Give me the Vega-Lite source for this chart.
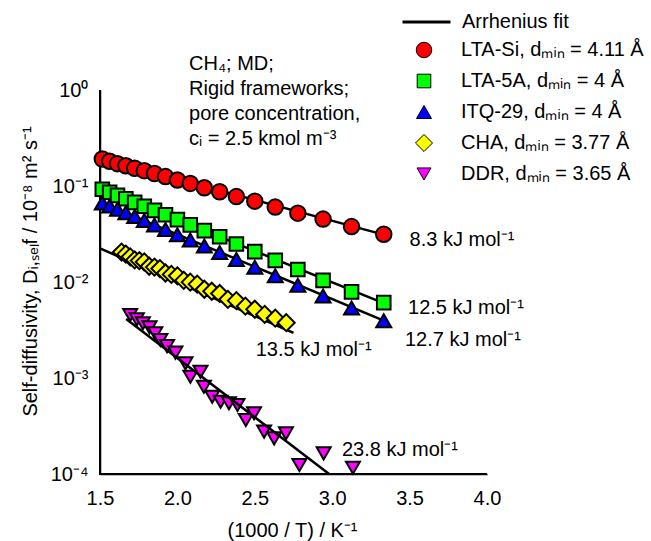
{
  "$schema": "https://vega.github.io/schema/vega-lite/v6.json",
  "width": 387,
  "height": 384,
  "autosize": {"type": "none"},
  "padding": {"left": 100, "top": 90, "right": 164, "bottom": 67},
  "background": "white",
  "config": {
    "view": {"stroke": null},
    "font": "Liberation Sans",
    "axis": {
      "domain": true,
      "domainColor": "black",
      "domainWidth": 1.5,
      "ticks": true,
      "tickColor": "black",
      "tickWidth": 1.5,
      "tickSize": 0,
      "grid": false,
      "zindex": 1,
      "labelColor": "black",
      "labelFont": "Liberation Sans",
      "labelFontSize": 20,
      "titleFont": "Liberation Sans",
      "titleFontSize": 20,
      "titleFontWeight": "normal",
      "titleColor": "black"
    },
    "legend": {
      "title": null,
      "orient": "none",
      "padding": 0,
      "labelFont": "Liberation Sans",
      "labelFontSize": 20,
      "labelColor": "black",
      "labelLimit": 0,
      "rowPadding": 11,
      "clipHeight": 20
    }
  },
  "datasets": {
    "pts": [
      {"series": "LTA-Si, dₘᵢₙ = 4.11 Å", "x": 1.515, "y": 0.191},
      {"series": "LTA-Si, dₘᵢₙ = 4.11 Å", "x": 1.5625, "y": 0.181},
      {"series": "LTA-Si, dₘᵢₙ = 4.11 Å", "x": 1.613, "y": 0.171},
      {"series": "LTA-Si, dₘᵢₙ = 4.11 Å", "x": 1.667, "y": 0.1626},
      {"series": "LTA-Si, dₘᵢₙ = 4.11 Å", "x": 1.724, "y": 0.153},
      {"series": "LTA-Si, dₘᵢₙ = 4.11 Å", "x": 1.786, "y": 0.1445},
      {"series": "LTA-Si, dₘᵢₙ = 4.11 Å", "x": 1.852, "y": 0.135},
      {"series": "LTA-Si, dₘᵢₙ = 4.11 Å", "x": 1.923, "y": 0.1253},
      {"series": "LTA-Si, dₘᵢₙ = 4.11 Å", "x": 2.0, "y": 0.1156},
      {"series": "LTA-Si, dₘᵢₙ = 4.11 Å", "x": 2.083, "y": 0.1064},
      {"series": "LTA-Si, dₘᵢₙ = 4.11 Å", "x": 2.174, "y": 0.0959},
      {"series": "LTA-Si, dₘᵢₙ = 4.11 Å", "x": 2.273, "y": 0.0871},
      {"series": "LTA-Si, dₘᵢₙ = 4.11 Å", "x": 2.381, "y": 0.0776},
      {"series": "LTA-Si, dₘᵢₙ = 4.11 Å", "x": 2.5, "y": 0.0695},
      {"series": "LTA-Si, dₘᵢₙ = 4.11 Å", "x": 2.632, "y": 0.0603},
      {"series": "LTA-Si, dₘᵢₙ = 4.11 Å", "x": 2.778, "y": 0.0521},
      {"series": "LTA-Si, dₘᵢₙ = 4.11 Å", "x": 2.941, "y": 0.0452},
      {"series": "LTA-Si, dₘᵢₙ = 4.11 Å", "x": 3.125, "y": 0.0378},
      {"series": "LTA-Si, dₘᵢₙ = 4.11 Å", "x": 3.333, "y": 0.0314},

      {"series": "LTA-5A, dₘᵢₙ = 4 Å", "x": 1.515, "y": 0.0925},
      {"series": "LTA-5A, dₘᵢₙ = 4 Å", "x": 1.5625, "y": 0.0861},
      {"series": "LTA-5A, dₘᵢₙ = 4 Å", "x": 1.613, "y": 0.0798},
      {"series": "LTA-5A, dₘᵢₙ = 4 Å", "x": 1.667, "y": 0.0736},
      {"series": "LTA-5A, dₘᵢₙ = 4 Å", "x": 1.724, "y": 0.0676},
      {"series": "LTA-5A, dₘᵢₙ = 4 Å", "x": 1.786, "y": 0.0615},
      {"series": "LTA-5A, dₘᵢₙ = 4 Å", "x": 1.852, "y": 0.0557},
      {"series": "LTA-5A, dₘᵢₙ = 4 Å", "x": 1.923, "y": 0.0501},
      {"series": "LTA-5A, dₘᵢₙ = 4 Å", "x": 2.0, "y": 0.0446},
      {"series": "LTA-5A, dₘᵢₙ = 4 Å", "x": 2.083, "y": 0.0394},
      {"series": "LTA-5A, dₘᵢₙ = 4 Å", "x": 2.174, "y": 0.0343},
      {"series": "LTA-5A, dₘᵢₙ = 4 Å", "x": 2.273, "y": 0.0296},
      {"series": "LTA-5A, dₘᵢₙ = 4 Å", "x": 2.381, "y": 0.0249},
      {"series": "LTA-5A, dₘᵢₙ = 4 Å", "x": 2.5, "y": 0.0207},
      {"series": "LTA-5A, dₘᵢₙ = 4 Å", "x": 2.632, "y": 0.0168},
      {"series": "LTA-5A, dₘᵢₙ = 4 Å", "x": 2.778, "y": 0.0135},
      {"series": "LTA-5A, dₘᵢₙ = 4 Å", "x": 2.941, "y": 0.0104},
      {"series": "LTA-5A, dₘᵢₙ = 4 Å", "x": 3.125, "y": 0.0079},
      {"series": "LTA-5A, dₘᵢₙ = 4 Å", "x": 3.333, "y": 0.0061},

      {"series": "ITQ-29, dₘᵢₙ = 4 Å", "x": 1.515, "y": 0.0665},
      {"series": "ITQ-29, dₘᵢₙ = 4 Å", "x": 1.5625, "y": 0.0618},
      {"series": "ITQ-29, dₘᵢₙ = 4 Å", "x": 1.613, "y": 0.0571},
      {"series": "ITQ-29, dₘᵢₙ = 4 Å", "x": 1.667, "y": 0.0525},
      {"series": "ITQ-29, dₘᵢₙ = 4 Å", "x": 1.724, "y": 0.048},
      {"series": "ITQ-29, dₘᵢₙ = 4 Å", "x": 1.786, "y": 0.0436},
      {"series": "ITQ-29, dₘᵢₙ = 4 Å", "x": 1.852, "y": 0.0393},
      {"series": "ITQ-29, dₘᵢₙ = 4 Å", "x": 1.923, "y": 0.0352},
      {"series": "ITQ-29, dₘᵢₙ = 4 Å", "x": 2.0, "y": 0.0311},
      {"series": "ITQ-29, dₘᵢₙ = 4 Å", "x": 2.083, "y": 0.0274},
      {"series": "ITQ-29, dₘᵢₙ = 4 Å", "x": 2.174, "y": 0.0237},
      {"series": "ITQ-29, dₘᵢₙ = 4 Å", "x": 2.273, "y": 0.0203},
      {"series": "ITQ-29, dₘᵢₙ = 4 Å", "x": 2.381, "y": 0.0172},
      {"series": "ITQ-29, dₘᵢₙ = 4 Å", "x": 2.5, "y": 0.01426},
      {"series": "ITQ-29, dₘᵢₙ = 4 Å", "x": 2.632, "y": 0.01159},
      {"series": "ITQ-29, dₘᵢₙ = 4 Å", "x": 2.778, "y": 0.00923},
      {"series": "ITQ-29, dₘᵢₙ = 4 Å", "x": 2.941, "y": 0.00716},
      {"series": "ITQ-29, dₘᵢₙ = 4 Å", "x": 3.125, "y": 0.00537},
      {"series": "ITQ-29, dₘᵢₙ = 4 Å", "x": 3.333, "y": 0.00395},

      {"series": "CHA, dₘᵢₙ = 3.77 Å", "x": 1.639, "y": 0.0205},
      {"series": "CHA, dₘᵢₙ = 3.77 Å", "x": 1.667, "y": 0.0195},
      {"series": "CHA, dₘᵢₙ = 3.77 Å", "x": 1.695, "y": 0.0183},
      {"series": "CHA, dₘᵢₙ = 3.77 Å", "x": 1.724, "y": 0.017},
      {"series": "CHA, dₘᵢₙ = 3.77 Å", "x": 1.754, "y": 0.0167},
      {"series": "CHA, dₘᵢₙ = 3.77 Å", "x": 1.786, "y": 0.0162},
      {"series": "CHA, dₘᵢₙ = 3.77 Å", "x": 1.818, "y": 0.0146},
      {"series": "CHA, dₘᵢₙ = 3.77 Å", "x": 1.852, "y": 0.0143},
      {"series": "CHA, dₘᵢₙ = 3.77 Å", "x": 1.887, "y": 0.0138},
      {"series": "CHA, dₘᵢₙ = 3.77 Å", "x": 1.923, "y": 0.0124},
      {"series": "CHA, dₘᵢₙ = 3.77 Å", "x": 1.961, "y": 0.012},
      {"series": "CHA, dₘᵢₙ = 3.77 Å", "x": 2.0, "y": 0.0116},
      {"series": "CHA, dₘᵢₙ = 3.77 Å", "x": 2.041, "y": 0.0104},
      {"series": "CHA, dₘᵢₙ = 3.77 Å", "x": 2.083, "y": 0.00996},
      {"series": "CHA, dₘᵢₙ = 3.77 Å", "x": 2.128, "y": 0.0095},
      {"series": "CHA, dₘᵢₙ = 3.77 Å", "x": 2.174, "y": 0.0084},
      {"series": "CHA, dₘᵢₙ = 3.77 Å", "x": 2.222, "y": 0.00801},
      {"series": "CHA, dₘᵢₙ = 3.77 Å", "x": 2.273, "y": 0.0076},
      {"series": "CHA, dₘᵢₙ = 3.77 Å", "x": 2.326, "y": 0.0066},
      {"series": "CHA, dₘᵢₙ = 3.77 Å", "x": 2.381, "y": 0.0064},
      {"series": "CHA, dₘᵢₙ = 3.77 Å", "x": 2.439, "y": 0.0056},
      {"series": "CHA, dₘᵢₙ = 3.77 Å", "x": 2.5, "y": 0.0052},
      {"series": "CHA, dₘᵢₙ = 3.77 Å", "x": 2.564, "y": 0.0046},
      {"series": "CHA, dₘᵢₙ = 3.77 Å", "x": 2.632, "y": 0.0042},
      {"series": "CHA, dₘᵢₙ = 3.77 Å", "x": 2.703, "y": 0.00377},

      {"series": "DDR, dₘᵢₙ = 3.65 Å", "x": 1.695, "y": 0.00453},
      {"series": "DDR, dₘᵢₙ = 3.65 Å", "x": 1.738, "y": 0.00408},
      {"series": "DDR, dₘᵢₙ = 3.65 Å", "x": 1.777, "y": 0.00372},
      {"series": "DDR, dₘᵢₙ = 3.65 Å", "x": 1.82, "y": 0.00337},
      {"series": "DDR, dₘᵢₙ = 3.65 Å", "x": 1.857, "y": 0.00292},
      {"series": "DDR, dₘᵢₙ = 3.65 Å", "x": 1.89, "y": 0.00249},
      {"series": "DDR, dₘᵢₙ = 3.65 Å", "x": 1.933, "y": 0.00215},
      {"series": "DDR, dₘᵢₙ = 3.65 Å", "x": 1.987, "y": 0.00184},
      {"series": "DDR, dₘᵢₙ = 3.65 Å", "x": 2.052, "y": 0.00142},
      {"series": "DDR, dₘᵢₙ = 3.65 Å", "x": 2.084, "y": 0.00103},
      {"series": "DDR, dₘᵢₙ = 3.65 Å", "x": 2.149, "y": 0.00116},
      {"series": "DDR, dₘᵢₙ = 3.65 Å", "x": 2.171, "y": 0.00081},
      {"series": "DDR, dₘᵢₙ = 3.65 Å", "x": 2.225, "y": 0.000638},
      {"series": "DDR, dₘᵢₙ = 3.65 Å", "x": 2.279, "y": 0.000566},
      {"series": "DDR, dₘᵢₙ = 3.65 Å", "x": 2.333, "y": 0.000545},
      {"series": "DDR, dₘᵢₙ = 3.65 Å", "x": 2.388, "y": 0.000523},
      {"series": "DDR, dₘᵢₙ = 3.65 Å", "x": 2.442, "y": 0.000365},
      {"series": "DDR, dₘᵢₙ = 3.65 Å", "x": 2.495, "y": 0.000429},
      {"series": "DDR, dₘᵢₙ = 3.65 Å", "x": 2.56, "y": 0.000276},
      {"series": "DDR, dₘᵢₙ = 3.65 Å", "x": 2.625, "y": 0.000235},
      {"series": "DDR, dₘᵢₙ = 3.65 Å", "x": 2.701, "y": 0.000265},
      {"series": "DDR, dₘᵢₙ = 3.65 Å", "x": 2.788, "y": 0.000124},
      {"series": "DDR, dₘᵢₙ = 3.65 Å", "x": 2.945, "y": 0.000164},
      {"series": "DDR, dₘᵢₙ = 3.65 Å", "x": 3.134, "y": 0.000116}
    ],
    "fits": [
      {"series": "LTA-Si", "x": 1.5, "y": 0.194},
      {"series": "LTA-Si", "x": 3.38, "y": 0.0297},
      {"series": "LTA-5A", "x": 1.5, "y": 0.0946},
      {"series": "LTA-5A", "x": 3.38, "y": 0.0056},
      {"series": "ITQ-29", "x": 1.5, "y": 0.068},
      {"series": "ITQ-29", "x": 3.36, "y": 0.0038},
      {"series": "CHA", "x": 1.5, "y": 0.0224},
      {"series": "CHA", "x": 2.75, "y": 0.00295},
      {"series": "DDR", "x": 1.669, "y": 0.00412},
      {"series": "DDR", "x": 2.98, "y": 0.0001}
    ],
    "energies": [
      {"x": 3.5, "y": 0.0274, "label": "8.3 kJ mol⁻¹"},
      {"x": 3.49, "y": 0.00536, "label": "12.5 kJ mol⁻¹"},
      {"x": 3.47, "y": 0.00249, "label": "12.7 kJ mol⁻¹"},
      {"x": 2.506, "y": 0.00196, "label": "13.5 kJ mol⁻¹"},
      {"x": 3.063, "y": 0.000178, "label": "23.8 kJ mol⁻¹"}
    ],
    "frame": [
      {"x": 1.5, "y": 1, "k": 0},
      {"x": 1.5, "y": 0.0001, "k": 1},
      {"x": 4.0, "y": 0.0001, "k": 2}
    ],
    "yMajor": [
      {"y": 1}, {"y": 0.1}, {"y": 0.01}, {"y": 0.001}
    ],
    "yMinor": [
      {"y": 0.0002}, {"y": 0.0003}, {"y": 0.0004}, {"y": 0.0005}, {"y": 0.0006}, {"y": 0.0007}, {"y": 0.0008}, {"y": 0.0009},
      {"y": 0.002}, {"y": 0.003}, {"y": 0.004}, {"y": 0.005}, {"y": 0.006}, {"y": 0.007}, {"y": 0.008}, {"y": 0.009},
      {"y": 0.02}, {"y": 0.03}, {"y": 0.04}, {"y": 0.05}, {"y": 0.06}, {"y": 0.07}, {"y": 0.08}, {"y": 0.09},
      {"y": 0.2}, {"y": 0.3}, {"y": 0.4}, {"y": 0.5}, {"y": 0.6}, {"y": 0.7}, {"y": 0.8}, {"y": 0.9}
    ],
    "xTicks": [
      {"x": 1.75}, {"x": 2.0}, {"x": 2.25}, {"x": 2.5}, {"x": 2.75}, {"x": 3.0},
      {"x": 3.25}, {"x": 3.5}, {"x": 3.75}, {"x": 4.0}
    ]
  },
  "encoding": {
    "x": {
      "field": "x",
      "type": "quantitative",
      "scale": {"domain": [1.5, 4.0], "nice": false, "zero": false},
      "axis": {
        "title": "(1000 / T) / K⁻¹",
        "values": [1.5, 1.75, 2.0, 2.25, 2.5, 2.75, 3.0, 3.25, 3.5, 3.75, 4.0],
        "labelExpr": "datum.value * 2 == round(datum.value * 2) ? format(datum.value, '.1f') : ''",
        "labelFlush": false,
        "labelOverlap": false,
        "labelPadding": 14,
        "titleX": 192,
        "titleY": 56,
        "titleAlign": "center",
        "titleBaseline": "middle",
        "encode": {"ticks": {"update": {"y2": {"value": -7}}}}
      }
    },
    "y": {
      "field": "y",
      "type": "quantitative",
      "scale": {"type": "log", "domain": [0.0001, 1], "nice": false},
      "axis": {
        "title": "Self-diffusivity, Dᵢ,ₛₑₗf / 10⁻⁸ m² s⁻¹",
        "values": [0.0001, 0.0002, 0.0003, 0.0004, 0.0005, 0.0006, 0.0007, 0.0008, 0.0009,
                   0.001, 0.002, 0.003, 0.004, 0.005, 0.006, 0.007, 0.008, 0.009,
                   0.01, 0.02, 0.03, 0.04, 0.05, 0.06, 0.07, 0.08, 0.09,
                   0.1, 0.2, 0.3, 0.4, 0.5, 0.6, 0.7, 0.8, 0.9, 1],
        "labelExpr": "datum.value == 1 ? '10⁰' : datum.value == 0.1 ? '10⁻¹' : datum.value == 0.01 ? '10⁻²' : datum.value == 0.001 ? '10⁻³' : datum.value == 0.0001 ? '10⁻⁴' : ''",
        "labelOverlap": false,
        "labelFlush": false,
        "labelPadding": 12,
        "titleX": -70,
        "titleY": 181,
        "titleAngle": -90,
        "titleAlign": "center",
        "titleBaseline": "middle",
        "encode": {
          "ticks": {
            "update": {
              "x2": [
                {"test": "datum.value == 1 || datum.value == 0.1 || datum.value == 0.01 || datum.value == 0.001 || datum.value == 0.0001", "value": 10},
                {"value": 5}
              ]
            }
          }
        }
      }
    }
  },
  "layer": [
    {
      "data": {"name": "fits"},
      "transform": [{"filter": "datum.series != 'DDR'"}],
      "mark": {"type": "line", "strokeWidth": 2.5, "clip": true},
      "encoding": {
        "detail": {"field": "series", "type": "nominal"},
        "stroke": {
          "datum": "Arrhenius fit",
          "type": "nominal",
          "scale": {"range": ["black"]},
          "legend": {
            "legendX": 301,
            "legendY": -78,
            "symbolType": "stroke",
            "symbolSize": 2304,
            "symbolStrokeWidth": 3,
            "labelOffset": 10
          }
        }
      }
    },
    {
      "data": {"name": "frame"},
      "mark": {"type": "line", "color": "black", "strokeWidth": 2},
      "encoding": {"order": {"field": "k", "type": "quantitative"}}
    },
    {
      "data": {"name": "yMajor"},
      "mark": {"type": "tick", "orient": "horizontal", "size": 10, "thickness": 1.5, "xOffset": 5, "color": "black", "opacity": 1},
      "encoding": {"x": {"datum": 1.5, "type": "quantitative"}}
    },
    {
      "data": {"name": "yMinor"},
      "mark": {"type": "tick", "orient": "horizontal", "size": 5, "thickness": 1.5, "xOffset": 2.5, "color": "black", "opacity": 1},
      "encoding": {"x": {"datum": 1.5, "type": "quantitative"}}
    },
    {
      "data": {"name": "xTicks"},
      "mark": {"type": "tick", "orient": "vertical", "size": 7, "thickness": 1.5, "yOffset": -3.5, "color": "black", "opacity": 1},
      "encoding": {"y": {"datum": 0.0001, "type": "quantitative"}}
    },
    {
      "data": {"name": "pts"},
      "mark": {"type": "point", "filled": true, "stroke": "black", "opacity": 1},
      "encoding": {
        "shape": {
          "field": "series",
          "type": "nominal",
          "scale": {
            "domain": ["LTA-Si, dₘᵢₙ = 4.11 Å", "LTA-5A, dₘᵢₙ = 4 Å", "ITQ-29, dₘᵢₙ = 4 Å", "CHA, dₘᵢₙ = 3.77 Å", "DDR, dₘᵢₙ = 3.65 Å"],
            "range": ["circle", "square", "triangle-up", "diamond", "triangle-down"]
          },
          "legend": {
            "legendX": 314,
            "legendY": -50,
            "labelOffset": 27,
            "symbolStrokeColor": "black",
            "symbolStrokeWidth": 1
          }
        },
        "fill": {
          "field": "series",
          "type": "nominal",
          "scale": {
            "domain": ["LTA-Si, dₘᵢₙ = 4.11 Å", "LTA-5A, dₘᵢₙ = 4 Å", "ITQ-29, dₘᵢₙ = 4 Å", "CHA, dₘᵢₙ = 3.77 Å", "DDR, dₘᵢₙ = 3.65 Å"],
            "range": ["#ff0000", "#00ff00", "#0000ff", "#ffff00", "#ff00ff"]
          }
        },
        "size": {
          "field": "series",
          "type": "nominal",
          "scale": {
            "type": "ordinal",
            "domain": ["LTA-Si, dₘᵢₙ = 4.11 Å", "LTA-5A, dₘᵢₙ = 4 Å", "ITQ-29, dₘᵢₙ = 4 Å", "CHA, dₘᵢₙ = 3.77 Å", "DDR, dₘᵢₙ = 3.65 Å"],
            "range": [240, 185, 225, 290, 196]
          }
        }
      }
    },
    {
      "data": {"name": "fits"},
      "transform": [{"filter": "datum.series == 'DDR'"}],
      "mark": {"type": "line", "color": "black", "strokeWidth": 2.5, "clip": true},
      "encoding": {}
    },
    {
      "data": {"name": "energies"},
      "mark": {"type": "text", "align": "left", "baseline": "middle", "font": "Liberation Sans", "fontSize": 20, "color": "black"},
      "encoding": {"text": {"field": "label", "type": "nominal"}}
    },
    {
      "data": {"values": [{"x": 2.075, "y": 2.36}]},
      "mark": {
        "type": "text",
        "align": "left",
        "baseline": "top",
        "font": "Liberation Sans",
        "fontSize": 20,
        "lineHeight": 25,
        "color": "black",
        "text": ["CH₄; MD;", "Rigid frameworks;", "pore concentration,", "cᵢ = 2.5 kmol m⁻³"]
      },
      "encoding": {}
    }
  ]
}
